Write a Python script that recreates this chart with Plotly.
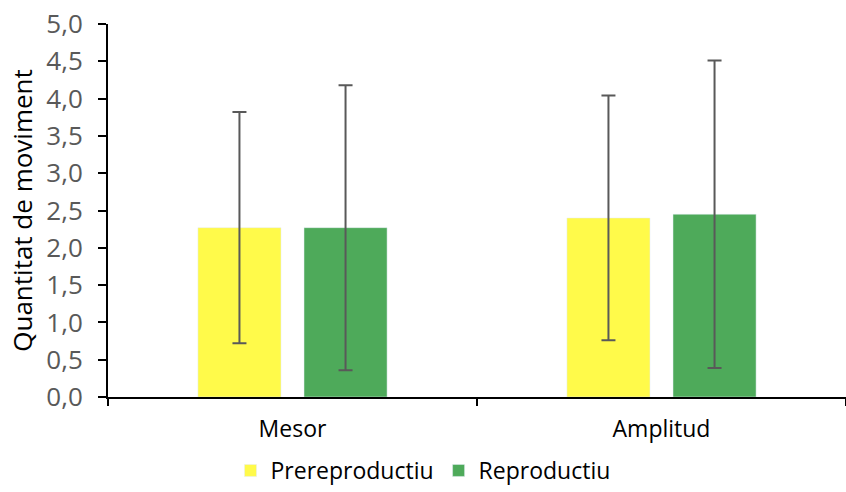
import plotly.graph_objects as go

categories = ["Mesor", "Amplitud"]
pre_values = [2.27, 2.40]
pre_err = [1.55, 1.64]
rep_values = [2.27, 2.45]
rep_err = [1.91, 2.06]
y_ticks = [0, 0.5, 1, 1.5, 2, 2.5, 3, 3.5, 4, 4.5, 5]
y_labels = ["0,0", "0,5", "1,0", "1,5", "2,0", "2,5", "3,0", "3,5", "4,0", "4,5", "5,0"]

FONT = "Open Sans"
err_style = dict(type="data", thickness=2, width=7, color="#595959")

fig = go.Figure()
fig.add_trace(go.Bar(name="Prereproductiu", x=categories, y=pre_values,
                     marker_color="#FFFA4A",
                     error_y=dict(array=pre_err, **err_style)))
fig.add_trace(go.Bar(name="Reproductiu", x=categories, y=rep_values,
                     marker_color="#4EAA5A",
                     error_y=dict(array=rep_err, **err_style)))

fig.update_layout(
    width=846, height=492,
    margin=dict(l=108, r=0, t=24, b=95),
    paper_bgcolor="white", plot_bgcolor="white",
    barmode="group", bargap=0.425, bargroupgap=0.217,
    font=dict(family=FONT, color="#000000"),
    legend=dict(orientation="h", xref="container", yref="container",
                x=0.5, xanchor="center", y=-0.012, yanchor="bottom",
                font=dict(size=23, color="#000000"), itemwidth=30,
                traceorder="normal"),
    showlegend=True,
)
fig.update_yaxes(range=[0, 5], tickvals=y_ticks, ticktext=y_labels,
                 showgrid=False, zeroline=False,
                 showline=True, linecolor="#000000", linewidth=2,
                 ticks="outside", ticklen=8, tickcolor="#000000", tickwidth=2,
                 ticklabelstandoff=10,
                 tickfont=dict(size=26, color="#595959"),
                 title=dict(text="Quantitat de moviment", font=dict(size=26, color="#000000"), standoff=6))
fig.update_xaxes(showgrid=False, showline=True, linecolor="#000000", linewidth=2,
                 ticks="outside", tickson="boundaries", ticklen=7, tickcolor="#000000", tickwidth=2,
                 tickfont=dict(size=23, color="#000000"), ticklabelstandoff=10)

fig.write_html("out.html")
